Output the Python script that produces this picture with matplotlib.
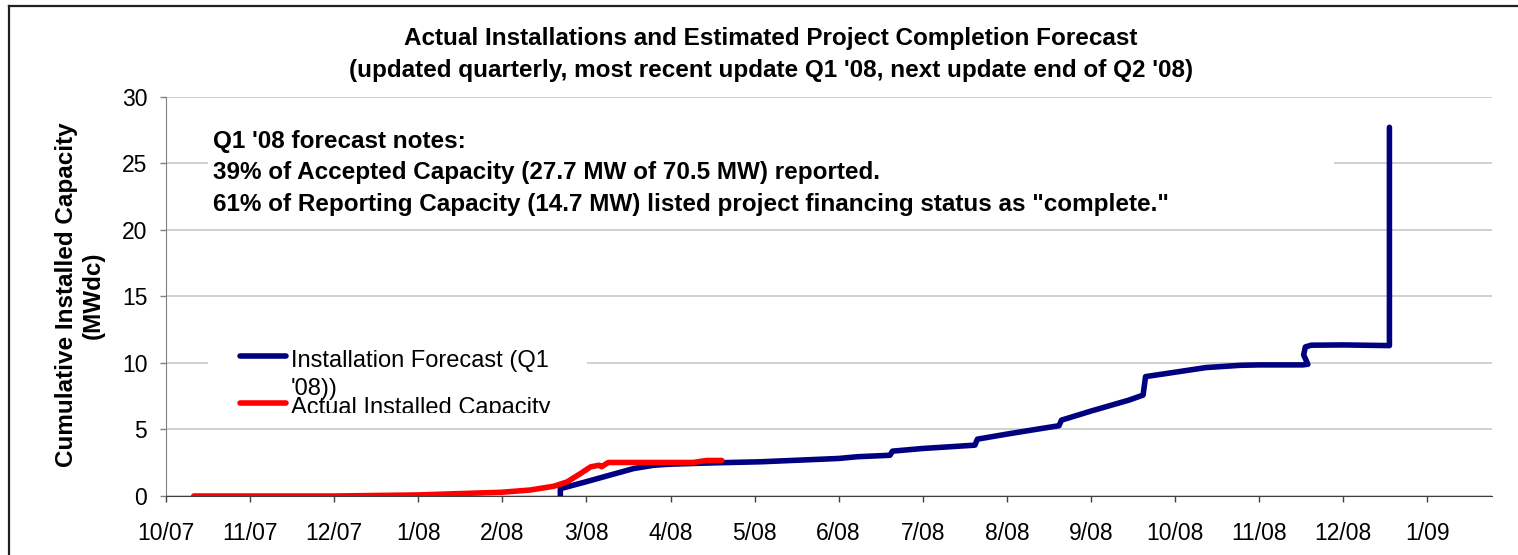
import matplotlib.pyplot as plt
from matplotlib.patches import Rectangle
from matplotlib.lines import Line2D

plt.rcParams['font.family'] = ['Liberation Sans', 'DejaVu Sans']

# x values are months counted from 1 Oct 2007 (0 = 10/07, 1 = 11/07, ...)
tick_labels = ['10/07', '11/07', '12/07', '1/08', '2/08', '3/08', '4/08', '5/08',
               '6/08', '7/08', '8/08', '9/08', '10/08', '11/08', '12/08', '1/09']
y_ticks = [0, 5, 10, 15, 20, 25, 30]

forecast_month = [4.69, 4.69, 4.99, 5.32, 5.56, 5.80, 5.99, 6.51, 7.07, 8.00,
                  8.22, 8.61, 8.64, 9.00, 9.62, 9.65, 10.00, 10.41, 10.62, 10.65,
                  11.00, 11.45, 11.62, 11.65, 12.00, 12.37, 12.78, 13.00, 13.52,
                  13.58, 13.53, 13.55, 13.62, 14.00, 14.55, 14.55]
forecast_mw = [0.00, 0.55, 1.06, 1.64, 2.06, 2.31, 2.39, 2.49, 2.57, 2.82,
               2.95, 3.06, 3.37, 3.57, 3.82, 4.27, 4.65, 5.07, 5.28, 5.70,
               6.38, 7.20, 7.58, 8.97, 9.30, 9.65, 9.82, 9.85, 9.85,
               9.90, 10.60, 11.20, 11.33, 11.35, 11.30, 27.70]

actual_month = [0.33, 2.00, 3.00, 3.34, 3.99, 4.33, 4.61, 4.77, 4.93, 5.05,
                5.15, 5.18, 5.26, 6.27, 6.43, 6.61]
actual_mw = [0.00, 0.00, 0.08, 0.15, 0.28, 0.45, 0.73, 1.06, 1.69, 2.19,
             2.31, 2.20, 2.52, 2.52, 2.67, 2.67]

title_lines = ['Actual Installations and Estimated Project Completion Forecast',
               "(updated quarterly, most recent update Q1 '08, next update end of Q2 '08)"]
note_lines = ["Q1 '08 forecast notes:",
              '39% of Accepted Capacity (27.7 MW of 70.5 MW) reported.',
              '61% of Reporting Capacity (14.7 MW) listed project financing status as "complete."']
legend_labels = ["Installation Forecast (Q1\n'08))", 'Actual Installed Capacity']
series_colors = ['#000080', '#FF0000']

W, H = 1518, 555


def fx(px):
    return px / W


def fy(py):
    return 1 - py / H


fig = plt.figure(figsize=(W / 100, H / 100), dpi=100)
ax = fig.add_axes([fx(166), fy(496), fx(1492) - fx(166), fy(96.7) - fy(496)])

# chart area frame (only top and left edge visible)
fig.add_artist(Line2D([fx(8.5), fx(8.5)], [fy(6), 0], color='#202020', lw=1.6))
fig.add_artist(Line2D([fx(8.5), 1], [fy(6), fy(6)], color='#202020', lw=1.6))

ax.plot(forecast_month, forecast_mw, color=series_colors[0], lw=4.0,
        solid_capstyle='round', solid_joinstyle='round', zorder=3)
ax.plot(actual_month, actual_mw, color=series_colors[1], lw=4.0,
        solid_capstyle='round', solid_joinstyle='round', zorder=4)

ax.set_xlim(0, 15.77)
ax.set_ylim(0, 30)
ax.set_xticks(range(len(tick_labels)))
ax.set_xticklabels(tick_labels)
ax.set_yticks(y_ticks)
ax.tick_params(axis='x', labelsize=16.5, length=4.5, width=1, color='#404040', pad=14)
ax.tick_params(axis='y', labelsize=16.5, length=4.5, width=1, color='#808080', pad=9)
ax.grid(axis='y', color='#c8c8c8', lw=1.2)
ax.set_axisbelow(True)
for side in ['top', 'right']:
    ax.spines[side].set_visible(False)
ax.spines['left'].set_color('#808080')
ax.spines['bottom'].set_color('#404040')

# white text boxes hiding the gridlines
notes_box = Rectangle((fx(208), fy(222)), fx(1334) - fx(208), fy(110) - fy(222),
                      transform=fig.transFigure, facecolor='white', edgecolor='none', zorder=1.5)
legend_box = Rectangle((fx(208), fy(413)), fx(587) - fx(208), fy(336) - fy(413),
                       transform=fig.transFigure, facecolor='white', edgecolor='none', zorder=1.5)
ax.add_patch(notes_box)
ax.add_patch(legend_box)

# title
for i, line in enumerate(title_lines):
    fig.text(fx(771), fy(45 + 32 * i), line, ha='center', va='baseline',
             fontsize=17.5, fontweight='bold')

# notes
for i, line in enumerate(note_lines):
    fig.text(fx(213), fy(148 + 31.5 * i), line, ha='left', va='baseline',
             fontsize=17.5, fontweight='bold')

# y label
fig.text(fx(80), fy(295), 'Cumulative Installed Capacity\n(MWdc)', rotation=90,
         ha='center', va='center', multialignment='center', fontsize=17.5,
         fontweight='bold', linespacing=1.2)

# legend
handle_y = [356, 403]
for label, color, hy in zip(legend_labels, series_colors, handle_y):
    ax.add_line(Line2D([fx(240), fx(286)], [fy(hy), fy(hy)], transform=fig.transFigure,
                       color=color, lw=4.0, solid_capstyle='round', zorder=3))
    for j, part in enumerate(label.split('\n')):
        t = ax.text(fx(291), fy(hy + 11 + 28 * j), part, transform=fig.transFigure,
                    ha='left', va='baseline', fontsize=17, zorder=5, clip_on=True)
        t.set_clip_path(legend_box)

plt.savefig('out.png', dpi=100)
